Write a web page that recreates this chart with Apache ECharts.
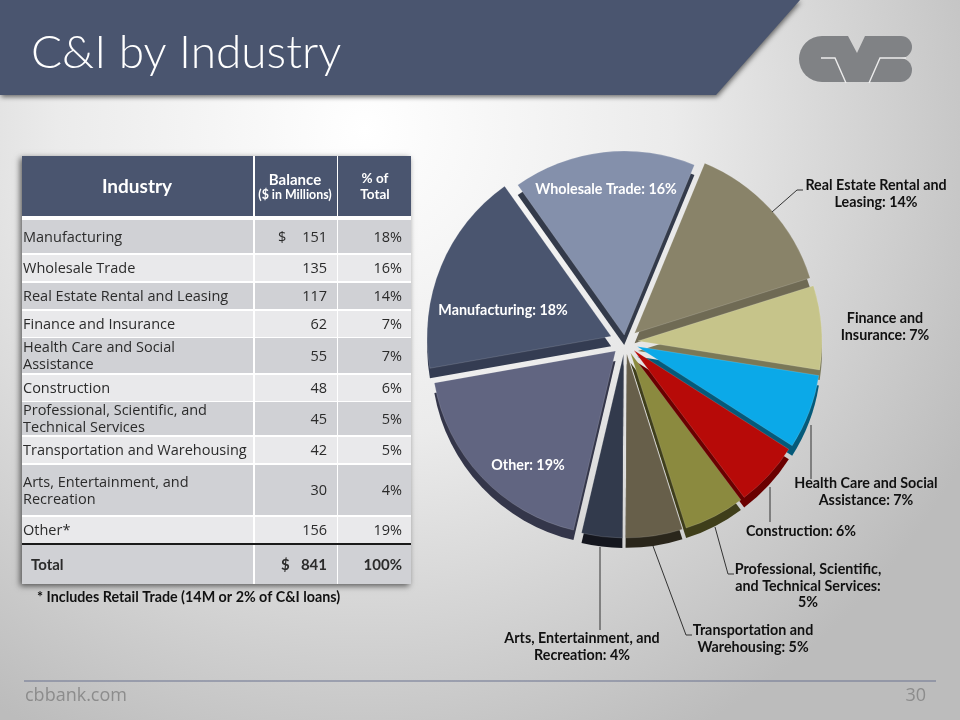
<!DOCTYPE html>
<html>
<head>
<meta charset="utf-8">
<style>html,body{margin:0;padding:0;background:#fff}#c{width:960px;height:720px}</style>
<script src="https://cdn.jsdelivr.net/npm/echarts@6/dist/echarts.min.js"></script>
</head>
<body>
<div id="c"></div>
<script>
// ---- data ----
const categories = ['Manufacturing','Wholesale Trade','Real Estate Rental and Leasing','Finance and Insurance','Health Care and Social Assistance','Construction','Professional, Scientific, and Technical Services','Transportation and Warehousing','Arts, Entertainment, and Recreation','Other'];
const balances = [151,135,117,62,55,48,45,42,30,156];
const percents = [18,16,14,7,7,6,5,5,4,19];
const tableNames = ['Manufacturing','Wholesale Trade','Real Estate Rental and Leasing','Finance and Insurance','Health Care and Social\nAssistance','Construction','Professional, Scientific, and\nTechnical Services','Transportation and Warehousing','Arts, Entertainment, and\nRecreation','Other*'];
const pieLabelNames = ['Manufacturing','Wholesale Trade','Real Estate Rental and\nLeasing','Finance and\nInsurance','Health Care and Social\nAssistance','Construction','Professional, Scientific,\nand Technical Services:\n','Transportation and\nWarehousing','Arts, Entertainment, and\nRecreation','Other'];
const totalBalance = 841;
const totalPercent = 100;

// ---- styles and layout ----
const topColors = ['#4a556f','#8490ab','#898369','#c6c48a','#0ba9e8','#b70a08','#8b8a3f','#675f4a','#323a4c','#616581'];
const sideColors = ['#343c52','#333a4a','#6f6a54','#7a7857','#055a7a','#6a0000','#3f3e1a','#2a261b','#14161e','#34364a'];
const sliceOffsets = [15,7,13,13,13,12,12,12,12,13];
const labelPlaces = [[503,310],[606,189],[876,194],[885,327],[866,492],[801,531],[808,586],[753,639],[582,647],[528,465]];
const leaders = [null,null,[[772,212],[797,190],[803,190]],null,[[811,425],[811,479]],[[770,487],[770,522]],[[715,527],[728,574],[734,574]],[[653,546],[686,635],[692,635]],[[600,547],[600,630]],null];
const innerLabel = [true,true,false,false,false,false,false,false,false,true];
const rowBands = [[220,253],[255,281],[283,309],[311,337],[338,373],[375,401],[402,435],[437,463],[465,515],[517,543]];
const cols = [[22,253],[255,337],[338,411]];
const PIE_X = 625, PIE_Y = 342, PIE_R = 184, DEPTH = 10, START = 190;
const LABEL_FONT = 'Lato';
const TABLE_FONT = '"Open Sans"';

function pieLayer(offset, isTop) {
  return {
    type: 'pie',
    silent: true,
    animation: false,
    z: isTop ? 3 : 2,
    center: [PIE_X, isTop ? PIE_Y : PIE_Y + DEPTH],
    radius: [0, PIE_R],
    startAngle: START,
    clockwise: true,
    selectedMode: 'multiple',
    selectedOffset: offset,
    select: {itemStyle: {}},
    label: {show: false},
    labelLine: {show: false},
    data: categories.map(function (name, i) {
      return {
        name: name,
        value: balances[i],
        selected: true,
        itemStyle: {
          color: isTop ? topColors[i] : sideColors[i],
          opacity: sliceOffsets[i] === offset ? 1 : 0,
          borderWidth: isTop ? 1 : 0,
          borderColor: 'rgba(255,255,255,0.14)'
        }
      };
    })
  };
}

const labelLayer = {
  type: 'pie',
  silent: true,
  animation: false,
  z: 4,
  center: [PIE_X, PIE_Y],
  radius: [0, PIE_R],
  startAngle: START,
  clockwise: true,
  avoidLabelOverlap: false,
  labelLayout: function (p) {
    const i = p.dataIndex;
    const r = {x: labelPlaces[i][0], y: labelPlaces[i][1], align: 'center', verticalAlign: 'middle'};
    if (leaders[i]) r.labelLinePoints = leaders[i];
    return r;
  },
  data: categories.map(function (name, i) {
    return {
      name: name,
      value: balances[i],
      itemStyle: {color: 'transparent', borderWidth: 0},
      label: {
        show: true,
        position: 'outside',
        formatter: pieLabelNames[i] + (pieLabelNames[i].endsWith('\n') ? '' : ': ') + percents[i] + '%',
        color: innerLabel[i] ? '#ffffff' : '#111111',
        fontFamily: LABEL_FONT,
        fontWeight: 'bold',
        fontSize: 14.3,
        lineHeight: 16.5,
        align: 'center'
      },
      labelLine: {
        show: !!leaders[i],
        lineStyle: {color: '#333333', width: 1}
      }
    };
  })
};

const offsetGroups = Array.from(new Set(sliceOffsets));
const series = [];
offsetGroups.forEach(function (o) { series.push(pieLayer(o, false)); });
offsetGroups.forEach(function (o) { series.push(pieLayer(o, true)); });
series.push(labelLayer);

function txt(x, y, text, o) {
  return {type: 'text', x: x, y: y, silent: true, z: 20, style: Object.assign({text: text, fontFamily: TABLE_FONT, fontSize: 14.5, fill: '#2b2b2b', textAlign: 'left', textVerticalAlign: 'middle', lineHeight: 17}, o || {})};
}
function box(x0, y0, x1, y1, fill, extra) {
  return Object.assign({type: 'rect', silent: true, z: 10, shape: {x: x0, y: y0, width: x1 - x0, height: y1 - y0}, style: {fill: fill}}, extra || {});
}

const g = [];
// banner
g.push({type: 'polygon', silent: true, z: 5, shape: {points: [[0,0],[800,0],[716,95],[0,95]]}, style: {fill: '#4a556f', shadowBlur: 5, shadowOffsetY: 2, shadowOffsetX: 1, shadowColor: 'rgba(0,0,0,0.55)'}});
g.push(txt(31, 53, 'C&I by Industry', {fontFamily: 'Lato', fontWeight: 300, fontSize: 46, fill: '#ffffff', lineHeight: 50}));
// logo
const LOGO = '#808285';
g.push({type: 'circle', silent: true, z: 6, shape: {cx: 822, cy: 59, r: 23}, style: {fill: LOGO}});
g.push({type: 'circle', silent: true, z: 6, shape: {cx: 901, cy: 47, r: 11}, style: {fill: LOGO}});
g.push({type: 'circle', silent: true, z: 6, shape: {cx: 900, cy: 70, r: 12}, style: {fill: LOGO}});
g.push({type: 'polygon', silent: true, z: 6, shape: {points: [[822,36],[848,36],[857,53],[865,36],[901,36],[901,58],[900,82],[822,82]]}, style: {fill: LOGO}});
g.push({type: 'polyline', silent: true, z: 7, shape: {points: [[821,58],[835,58],[846,83]]}, style: {stroke: '#ececec', lineWidth: 1.4, fill: null}});
g.push({type: 'polyline', silent: true, z: 7, shape: {points: [[869,83],[880,58],[906,58]]}, style: {stroke: '#ececec', lineWidth: 1.4, fill: null}});
// table shadow
g.push(box(22,156,411,584,'#e8e8ea',{z: 9, style: {fill: '#e8e8ea', shadowBlur: 6, shadowOffsetX: -2, shadowOffsetY: 2, shadowColor: 'rgba(0,0,0,0.6)'}}));
g.push(box(22,156,411,584,'#ffffff',{z: 9}));
// header
cols.forEach(function (c) { g.push(box(c[0],156,c[1],216,'#4a556f')); });
g.push(txt(137,187,'Industry',{fontFamily: LABEL_FONT, fontWeight: 'bold', fontSize: 19, fill: '#fff', textAlign: 'center'}));
g.push(txt(295,180,'Balance',{fontFamily: LABEL_FONT, fontWeight: 'bold', fontSize: 15, fill: '#fff', textAlign: 'center'}));
g.push(txt(295,195,'($ in Millions)',{fontFamily: LABEL_FONT, fontWeight: 'bold', fontSize: 12.4, fill: '#fff', textAlign: 'center'}));
g.push(txt(375,187,'% of\nTotal',{fontFamily: LABEL_FONT, fontWeight: 'bold', fontSize: 13.5, fill: '#fff', textAlign: 'center', lineHeight: 16}));
// rows
rowBands.forEach(function (b, i) {
  const fill = i % 2 === 0 ? '#d0d1d5' : '#e9e9eb';
  cols.forEach(function (c) { g.push(box(c[0],b[0],c[1],b[1],fill)); });
  const mid = (b[0] + b[1]) / 2 + 1;
  g.push(txt(23, mid, tableNames[i]));
  g.push(txt(327, mid, String(balances[i]), {textAlign: 'right'}));
  g.push(txt(402, mid, percents[i] + '%', {textAlign: 'right'}));
  if (i === 0) g.push(txt(278, mid, '$'));
});
// total
const totalStyle = {fontFamily: LABEL_FONT, fontWeight: 'bold', fontSize: 15};
cols.forEach(function (c) { g.push(box(c[0],545,c[1],584,'#d0d1d5')); });
g.push(box(22,543,411,545,'#1a1a1a',{z: 11}));
g.push(txt(31,565,'Total',totalStyle));
g.push(txt(281,565,'$',totalStyle));
g.push(txt(327,565,String(totalBalance),Object.assign({textAlign: 'right'},totalStyle)));
g.push(txt(402,565,totalPercent + '%',Object.assign({textAlign: 'right'},totalStyle)));
g.push(txt(37,597,'* Includes Retail Trade (14M or 2% of C&I loans)',{fontFamily: LABEL_FONT, fontWeight: 'bold', fontSize: 14.3, fill: '#111'}));
// footer
g.push(box(24,680.5,936,681.5,'#6a7390'));
g.push(txt(25,696,'cbbank.com',{fontFamily: '"Open Sans"', fontSize: 18, fill: '#8c8c8c'}));
g.push(txt(926,696,'30',{fontFamily: '"Open Sans"', fontSize: 18, fill: '#8c8c8c', textAlign: 'right'}));

const chart = echarts.init(document.getElementById('c'), null, {renderer: 'canvas', width: 960, height: 720});
chart.setOption({
  animation: false,
  backgroundColor: new echarts.graphic.RadialGradient(0.38, 0.18, 0.95, [
    {offset: 0, color: '#ffffff'},
    {offset: 0.45, color: '#ebebeb'},
    {offset: 1, color: '#bcbcbc'}
  ]),
  series: series,
  graphic: {elements: g}
});
</script>
</body>
</html>
